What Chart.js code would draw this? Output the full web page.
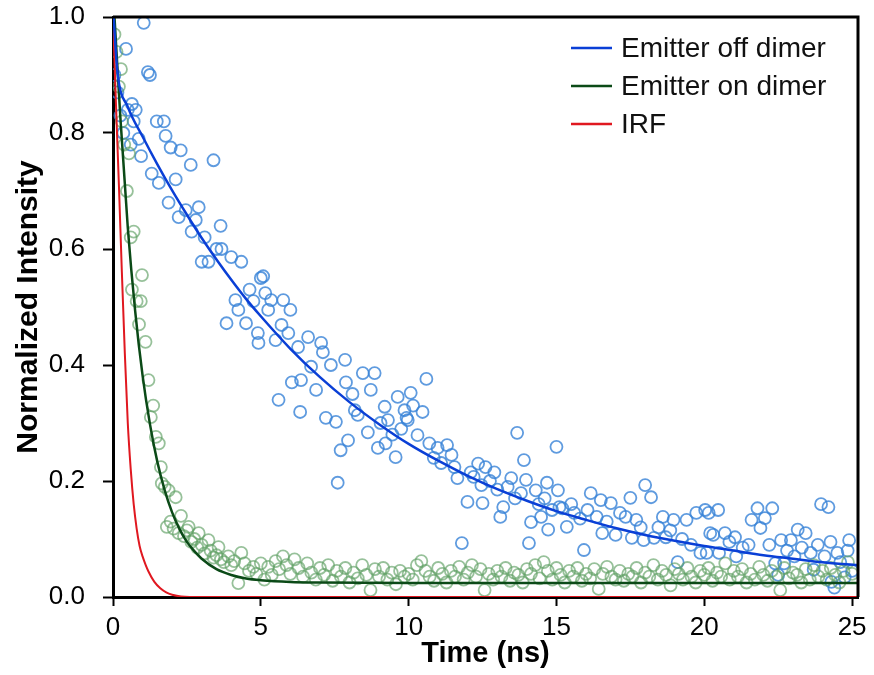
<!DOCTYPE html>
<html>
<head>
<meta charset="utf-8">
<script src="https://cdn.jsdelivr.net/npm/chart.js@4.4.1/dist/chart.umd.min.js"></script>
<style>
  html, body { margin: 0; padding: 0; background: #ffffff; }
  #wrap { width: 874px; height: 675px; position: relative; }
</style>
</head>
<body>
<div id="wrap"><canvas id="c" width="874" height="675"></canvas></div>
<script>
// ---- Data ----
const xAxisTitle = 'Time (ns)';
const yAxisTitle = 'Normalized Intensity';
const seriesNames = ['Emitter off dimer', 'Emitter on dimer', 'IRF'];

// Emitter off dimer: measured points
const blueTimes = [0.05,0.15,0.25,0.35,0.44,0.5,0.6,0.64,0.7,0.77,0.87,0.95,1.04,1.18,1.25,1.31,1.48,1.55,1.72,1.78,1.88,1.95,2.12,2.22,2.29,2.46,2.63,2.66,2.8,2.9,3.0,3.1,3.23,3.4,3.5,3.64,3.67,3.84,4.0,4.14,4.24,4.34,4.5,4.62,4.75,4.9,4.92,5.0,5.08,5.15,5.25,5.35,5.5,5.6,5.7,5.76,5.93,6.0,6.05,6.26,6.33,6.36,6.6,6.7,6.87,7.04,7.1,7.2,7.37,7.54,7.6,7.7,7.85,7.88,7.95,8.1,8.18,8.28,8.45,8.62,8.72,8.85,8.96,9.05,9.19,9.22,9.3,9.45,9.56,9.63,9.75,9.86,9.93,9.97,10.07,10.15,10.3,10.47,10.6,10.7,10.85,10.98,11.1,11.3,11.45,11.55,11.65,11.8,11.99,12.1,12.2,12.35,12.46,12.5,12.6,12.75,12.9,13.0,13.1,13.2,13.35,13.47,13.6,13.67,13.8,13.9,13.97,14.07,14.14,14.3,14.4,14.48,14.6,14.68,14.72,14.85,15.0,15.05,15.1,15.2,15.35,15.5,15.6,15.8,15.93,16.05,16.16,16.36,16.5,16.55,16.7,16.84,17.0,17.15,17.34,17.5,17.55,17.7,17.85,17.95,18.0,18.2,18.3,18.45,18.6,18.7,18.85,18.96,19.1,19.25,19.4,19.55,19.73,19.87,20.03,20.08,20.15,20.2,20.3,20.47,20.5,20.7,20.85,21.04,21.08,21.3,21.5,21.6,21.8,21.9,22.05,22.2,22.3,22.4,22.5,22.6,22.7,22.8,22.93,23.05,23.16,23.3,23.43,23.6,23.7,23.84,23.95,24.07,24.2,24.27,24.3,24.4,24.5,24.6,24.75,24.85,24.9,25.0];
const blueValues = [0.90,0.87,0.83,0.80,0.945,0.84,0.78,0.85,0.82,0.84,0.79,0.76,0.99,0.905,0.90,0.73,0.82,0.714,0.82,0.795,0.68,0.775,0.72,0.655,0.77,0.667,0.745,0.63,0.65,0.672,0.578,0.62,0.578,0.753,0.60,0.64,0.60,0.472,0.586,0.512,0.495,0.578,0.472,0.53,0.51,0.455,0.438,0.55,0.553,0.524,0.495,0.512,0.443,0.34,0.469,0.512,0.455,0.495,0.37,0.431,0.319,0.374,0.448,0.397,0.357,0.438,0.422,0.309,0.40,0.302,0.197,0.253,0.409,0.37,0.27,0.35,0.322,0.314,0.386,0.284,0.357,0.386,0.257,0.30,0.328,0.265,0.305,0.28,0.241,0.345,0.29,0.322,0.309,0.305,0.352,0.33,0.279,0.319,0.376,0.265,0.24,0.257,0.231,0.262,0.245,0.224,0.205,0.093,0.164,0.215,0.207,0.23,0.193,0.162,0.224,0.20,0.215,0.185,0.138,0.155,0.19,0.205,0.17,0.283,0.179,0.236,0.202,0.093,0.129,0.184,0.16,0.138,0.17,0.197,0.116,0.15,0.259,0.184,0.155,0.153,0.121,0.16,0.145,0.135,0.081,0.15,0.179,0.138,0.167,0.11,0.13,0.162,0.107,0.145,0.138,0.171,0.102,0.133,0.12,0.098,0.193,0.172,0.102,0.12,0.138,0.103,0.115,0.133,0.06,0.10,0.133,0.09,0.145,0.076,0.15,0.076,0.145,0.11,0.107,0.15,0.076,0.11,0.095,0.103,0.07,0.085,0.09,0.133,0.153,0.119,0.136,0.09,0.153,0.058,0.038,0.098,0.058,0.08,0.098,0.07,0.116,0.085,0.11,0.076,0.047,0.09,0.16,0.07,0.155,0.095,0.026,0.016,0.076,0.06,0.034,0.08,0.098,0.045];

// Emitter on dimer: measured points
const greenTimes = [0.05,0.12,0.2,0.27,0.3,0.38,0.47,0.54,0.6,0.64,0.7,0.8,0.88,0.94,0.98,1.1,1.2,1.28,1.36,1.45,1.55,1.62,1.65,1.75,1.82,1.88,1.95,2.05,2.12,2.22,2.3,2.4,2.5,2.56,2.65,2.75,2.85,2.9,3.0,3.1,3.23,3.3,3.4,3.5,3.57,3.65,3.75,3.9,4.0,4.1,4.24,4.34,4.45,4.6,4.75,4.85,
  5.0,5.12,5.25,5.37,5.5,5.62,5.75,5.87,6.0,6.14,6.28,6.43,6.57,6.71,6.86,7.0,7.14,7.28,7.43,7.57,7.71,7.86,8.0,8.14,8.28,8.43,8.57,8.71,8.86,9.0,9.14,9.28,9.43,9.57,9.71,9.86,10.0,10.14,10.28,10.43,10.57,10.71,10.86,11.0,11.14,11.28,11.43,11.57,11.71,11.86,12.0,12.14,12.28,12.43,12.57,12.71,12.86,13.0,13.14,13.28,13.43,13.57,13.71,13.86,14.0,14.14,14.28,14.43,14.57,14.71,14.86,15.0,15.14,15.28,15.43,15.57,15.71,15.86,16.0,16.14,16.28,16.43,16.57,16.71,16.86,17.0,17.14,17.28,17.43,17.57,17.71,17.86,18.0,18.14,18.28,18.43,18.57,18.71,18.86,19.0,19.14,19.28,19.43,19.57,19.71,19.86,20.0,20.14,20.28,20.43,20.57,20.71,20.86,21.0,21.14,21.28,21.43,21.57,21.71,21.86,22.0,22.14,22.28,22.43,22.57,22.71,22.86,23.0,23.14,23.28,23.43,23.57,23.71,23.86,24.0,24.14,24.28,24.43,24.57,24.71,24.86,25.0];
const greenValues = [0.97,0.94,0.88,0.91,0.82,0.78,0.70,0.765,0.62,0.53,0.63,0.51,0.47,0.51,0.555,0.44,0.374,0.31,0.33,0.276,0.265,0.224,0.196,0.19,0.121,0.184,0.13,0.118,0.172,0.11,0.14,0.105,0.115,0.121,0.095,0.10,0.085,0.11,0.09,0.075,0.098,0.08,0.068,0.072,0.086,0.065,0.06,0.07,0.055,0.062,0.024,0.076,0.058,0.045,0.052,0.04,
  0.058,0.03,0.052,0.038,0.062,0.048,0.07,0.055,0.04,0.065,0.05,0.035,0.058,0.042,0.03,0.05,0.038,0.055,0.028,0.045,0.035,0.05,0.025,0.042,0.032,0.055,0.038,0.012,0.048,0.035,0.05,0.03,0.042,0.022,0.045,0.035,0.04,0.03,0.055,0.062,0.045,0.035,0.028,0.05,0.04,0.025,0.045,0.035,0.052,0.03,0.042,0.055,0.035,0.048,0.012,0.04,0.03,0.045,0.035,0.05,0.028,0.042,0.038,0.025,0.048,0.04,0.055,0.032,0.06,0.045,0.03,0.05,0.038,0.025,0.045,0.035,0.05,0.028,0.04,0.032,0.048,0.014,0.04,0.052,0.035,0.03,0.045,0.028,0.04,0.035,0.05,0.025,0.042,0.035,0.055,0.03,0.045,0.038,0.02,0.048,0.04,0.03,0.05,0.035,0.025,0.045,0.038,0.05,0.028,0.042,0.035,0.058,0.03,0.045,0.035,0.048,0.025,0.04,0.03,0.052,0.038,0.028,0.045,0.035,0.012,0.05,0.032,0.042,0.038,0.025,0.048,0.03,0.055,0.035,0.045,0.03,0.05,0.038,0.025,0.045,0.06,0.04];

// Fitted curves and IRF
const blueFitTimes  = [0.02,0.15,0.5,1,1.5,2,2.5,3,3.5,4,4.5,5,6,7,8,9,10,11,12,13,14,15,16,17,18,19,20,21,22,23,24,25.2];
const blueFitValues = [1.0,0.905,0.845,0.794,0.746,0.701,0.659,0.619,0.582,0.547,0.514,0.484,0.428,0.379,0.336,0.298,0.264,0.235,0.209,0.186,0.166,0.148,0.133,0.119,0.107,0.097,0.088,0.080,0.072,0.066,0.060,0.055];
const greenFitTimes  = [0.05,0.25,0.5,0.75,1.0,1.25,1.5,1.75,2.0,2.25,2.5,2.75,3.0,3.5,4.0,4.5,5.0,6.0,7.0,10.0,25.2];
const greenFitValues = [1.0,0.826,0.637,0.493,0.382,0.298,0.233,0.184,0.146,0.117,0.095,0.079,0.066,0.048,0.038,0.032,0.029,0.026,0.025,0.024,0.024];
const irfTimes  = [0,0.1,0.2,0.3,0.4,0.5,0.6,0.7,0.8,0.9,1.0,1.1,1.2,1.4,1.6,1.8,2.0,2.3,3.0,25.2];
const irfValues = [1.0,0.85,0.71,0.56,0.42,0.30,0.22,0.16,0.118,0.088,0.07,0.056,0.044,0.026,0.015,0.008,0.004,0.001,0,0];

const xTickValues = [0, 5, 10, 15, 20, 25];
const yTickValues = [0.0, 0.2, 0.4, 0.6, 0.8, 1.0];

// ---- helpers ----
const pts = (xs, ys) => xs.map((x, i) => ({ x: x, y: ys[i] }));
const FONT = "'Liberation Sans', Arial, Helvetica, sans-serif";

const framePlugin = {
  id: 'frame',
  afterDraw(chart) {
    const { ctx, chartArea: a } = chart;
    ctx.save();
    ctx.strokeStyle = '#000';
    ctx.lineWidth = 3;
    ctx.beginPath();
    ctx.moveTo(a.left, a.top);
    ctx.lineTo(a.right, a.top);
    ctx.lineTo(a.right, a.bottom);
    ctx.stroke();
    ctx.restore();
  }
};

const legendPlugin = {
  id: 'insideLegend',
  afterDraw(chart, args, opts) {
    const { ctx, chartArea: a } = chart;
    const items = chart.data.datasets.filter(d => d.inLegend);
    ctx.save();
    ctx.font = opts.font;
    ctx.textBaseline = 'middle';
    ctx.textAlign = 'left';
    items.forEach((d, i) => {
      const y = a.top + opts.top + i * opts.rowGap;
      const x0 = a.right - opts.fromRight;
      ctx.strokeStyle = d.borderColor;
      ctx.lineWidth = 2.5;
      ctx.beginPath();
      ctx.moveTo(x0, y);
      ctx.lineTo(x0 + opts.lineLen, y);
      ctx.stroke();
      ctx.fillStyle = '#111';
      ctx.fillText(d.label, x0 + opts.lineLen + opts.gap, y + 1);
    });
    ctx.restore();
  }
};

const chart = new Chart(document.getElementById('c'), {
  type: 'scatter',
  data: {
    datasets: [
      { label: seriesNames[0], inLegend: true, type: 'line', data: pts(blueFitTimes, blueFitValues),
        borderColor: '#0a3fd6', borderWidth: 2.5, pointRadius: 0, cubicInterpolationMode: 'monotone', fill: false, order: 1 },
      { label: seriesNames[1], inLegend: true, type: 'line', data: pts(greenFitTimes, greenFitValues),
        borderColor: '#0b4a17', borderWidth: 2.5, pointRadius: 0, cubicInterpolationMode: 'monotone', fill: false, order: 2 },
      { label: seriesNames[2], inLegend: true, type: 'line', data: pts(irfTimes, irfValues),
        borderColor: '#e01820', borderWidth: 2, pointRadius: 0, cubicInterpolationMode: 'monotone', fill: false, order: 3 },
      { label: seriesNames[1] + ' data', data: pts(greenTimes, greenValues), showLine: false,
        pointStyle: 'circle', pointRadius: 6, pointBorderWidth: 1.8,
        borderColor: 'rgba(95,160,100,0.65)', backgroundColor: 'rgba(0,0,0,0)', order: 4 },
      { label: seriesNames[0] + ' data', data: pts(blueTimes, blueValues), showLine: false,
        pointStyle: 'circle', pointRadius: 6, pointBorderWidth: 1.8,
        borderColor: 'rgba(55,130,215,0.8)', backgroundColor: 'rgba(0,0,0,0)', order: 5 }
    ]
  },
  options: {
    responsive: false,
    animation: false,
    devicePixelRatio: 1,
    layout: { padding: { top: 17, right: 16, left: 0, bottom: 0 } },
    plugins: {
      legend: { display: false },
      tooltip: { enabled: false },
      insideLegend: { font: "28px " + FONT, top: 31, rowGap: 38, fromRight: 287, lineLen: 41, gap: 9 }
    },
    scales: {
      x: {
        type: 'linear', min: 0, max: 25.2,
        afterBuildTicks: s => { s.ticks = xTickValues.map(v => ({ value: v })); },
        ticks: { color: '#000', font: { family: FONT, size: 26 }, padding: 6, maxRotation: 0,
                 callback: v => String(v) },
        grid: { display: true, drawOnChartArea: false, drawTicks: true, tickLength: 9, tickColor: '#000', tickWidth: 2 },
        border: { display: true, color: '#000', width: 3 },
        title: { display: true, text: xAxisTitle, color: '#000', font: { family: FONT, size: 29, weight: 'bold' }, padding: { top: 0, bottom: 4 } },
        afterFit: s => { s.height = 78; s.paddingLeft = 0; s.paddingRight = 0; }
      },
      y: {
        type: 'linear', min: 0, max: 1.0,
        afterBuildTicks: s => { s.ticks = yTickValues.map(v => ({ value: v })); },
        ticks: { color: '#000', font: { family: FONT, size: 26 }, padding: 18,
                 callback: v => Number(v).toFixed(1) },
        grid: { display: true, drawOnChartArea: false, drawTicks: true, tickLength: 10, tickColor: '#000', tickWidth: 2 },
        border: { display: true, color: '#000', width: 3 },
        title: { display: true, text: yAxisTitle, color: '#000', font: { family: FONT, size: 30, weight: 'bold' }, padding: { top: 11, bottom: 0 } },
        afterFit: s => { s.width = 113; s.paddingTop = 0; s.paddingBottom = 0; }
      }
    }
  },
  plugins: [framePlugin, legendPlugin]
});
</script>
</body>
</html>
